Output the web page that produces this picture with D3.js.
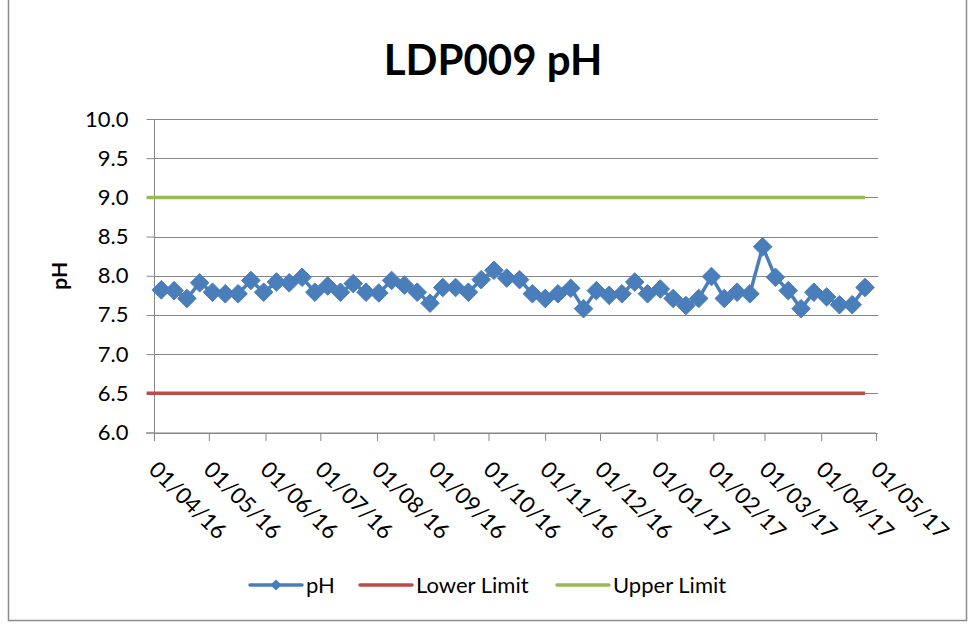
<!DOCTYPE html>
<html>
<head>
<meta charset="utf-8">
<script src="https://cdn.jsdelivr.net/npm/d3@7"></script>
<style>
  html, body { margin: 0; padding: 0; background: #fff; }
  svg { display: block; }
  text { font-family: Lato, "Open Sans", sans-serif; fill: #000; }
</style>
</head>
<body>
<svg id="chart" width="969" height="624"></svg>
<script>
// ---- Data ----
const title = "LDP009 pH";
const yAxisTitle = "pH";
const sampleDates = [
  "2016-04-05","2016-04-12","2016-04-19","2016-04-26","2016-05-03","2016-05-10","2016-05-17","2016-05-24",
  "2016-05-31","2016-06-07","2016-06-14","2016-06-21","2016-06-28","2016-07-05","2016-07-12","2016-07-19",
  "2016-07-26","2016-08-02","2016-08-09","2016-08-16","2016-08-23","2016-08-30","2016-09-06","2016-09-13",
  "2016-09-20","2016-09-27","2016-10-04","2016-10-11","2016-10-18","2016-10-25","2016-11-01","2016-11-08",
  "2016-11-15","2016-11-22","2016-11-29","2016-12-06","2016-12-13","2016-12-20","2016-12-27","2017-01-03",
  "2017-01-10","2017-01-17","2017-01-24","2017-01-31","2017-02-07","2017-02-14","2017-02-21","2017-02-28",
  "2017-03-07","2017-03-14","2017-03-21","2017-03-28","2017-04-04","2017-04-11","2017-04-18","2017-04-25"
];
const phValues = [
  7.82, 7.81, 7.71, 7.91, 7.79, 7.77, 7.77, 7.94,
  7.79, 7.92, 7.91, 7.98, 7.79, 7.87, 7.79, 7.90,
  7.79, 7.78, 7.94, 7.88, 7.79, 7.65, 7.85, 7.85,
  7.79, 7.95, 8.07, 7.97, 7.95, 7.77, 7.71, 7.77,
  7.84, 7.58, 7.81, 7.75, 7.77, 7.92, 7.77, 7.83,
  7.71, 7.62, 7.71, 7.99, 7.71, 7.79, 7.77, 8.37,
  7.98, 7.81, 7.58, 7.79, 7.73, 7.63, 7.63, 7.85
];
const limitDates = ["2016-03-28", "2017-04-25"];
const lowerLimit = [6.5, 6.5];
const upperLimit = [9.0, 9.0];
const yTicks = [6.0, 6.5, 7.0, 7.5, 8.0, 8.5, 9.0, 9.5, 10.0];
const xTickDates = [
  "2016-04-01","2016-05-01","2016-06-01","2016-07-01","2016-08-01","2016-09-01","2016-10-01",
  "2016-11-01","2016-12-01","2017-01-01","2017-02-01","2017-03-01","2017-04-01","2017-05-01"
];
const legendItems = [
  { name: "pH", color: "#4A7EBB", marker: true },
  { name: "Lower Limit", color: "#BE4B48", marker: false },
  { name: "Upper Limit", color: "#98B954", marker: false }
];

// ---- Setup ----
const parse = d3.utcParse("%Y-%m-%d");
const fmt = d3.utcFormat("%d/%m/%y");
const svg = d3.select("#chart");

const plot = { left: 154, right: 876, top: 119, bottom: 432.5 };

const x = d3.scaleUtc()
  .domain([parse(xTickDates[0]), parse(xTickDates[xTickDates.length - 1])])
  .range([plot.left, plot.right]);
const y = d3.scaleLinear().domain([6, 10]).range([plot.bottom, plot.top]);

// chart border
svg.append("path")
  .attr("d", "M8.5,-2 V620.5 H966.5 V-2")
  .attr("fill", "none").attr("stroke", "#8c8c8c").attr("stroke-width", 1.5);

// title
svg.append("text")
  .attr("x", 493).attr("y", 75)
  .attr("text-anchor", "middle")
  .style("font-size", "42px").style("font-weight", "bold")
  .text(title);

// gridlines
svg.append("g").selectAll("line")
  .data(yTicks)
  .join("line")
  .attr("x1", plot.left).attr("x2", plot.right + 2)
  .attr("y1", d => Math.round(y(d)) + 0.5).attr("y2", d => Math.round(y(d)) + 0.5)
  .attr("stroke", "#878787").attr("stroke-width", 1);

// y axis
const yAxis = d3.axisLeft(y).tickValues(yTicks).tickFormat(d3.format(".1f")).tickSize(8).tickPadding(18);
const gy = svg.append("g").attr("transform", `translate(${plot.left + 0.5},0)`).call(yAxis);
gy.select(".domain").attr("stroke", "#878787").attr("d", `M0,${plot.bottom + 8}V${plot.top}`);
gy.selectAll(".tick line").attr("stroke", "#878787");
gy.selectAll(".tick text").style("font-size", "22px").style("font-family", "Lato, sans-serif").attr("fill", "#000");

// y axis title
svg.append("text")
  .attr("transform", `translate(67,${(plot.top + plot.bottom) / 2}) rotate(-90)`)
  .attr("text-anchor", "middle")
  .style("font-size", "21px").style("font-weight", "bold")
  .text(yAxisTitle);

// x axis
const xAxis = d3.axisBottom(x).tickValues(xTickDates.map(parse)).tickFormat(fmt).tickSize(8).tickPadding(0);
const gx = svg.append("g").attr("transform", `translate(0,${plot.bottom + 0.5})`).call(xAxis);
gx.select(".domain").attr("stroke", "#878787").attr("d", `M${plot.left - 8},0H${plot.right}`);
gx.selectAll(".tick line").attr("stroke", "#878787");
gx.selectAll(".tick text")
  .style("font-size", "22.5px").style("font-family", "Lato, sans-serif").attr("fill", "#000")
  .attr("text-anchor", "start")
  .attr("y", 0).attr("dy", 0)
  .attr("transform", "translate(-7,38) rotate(45)");

// limit lines
const lineGen = d3.line().x(d => x(d[0])).y(d => y(d[1]));
svg.append("path")
  .datum(limitDates.map((d, i) => [parse(d), lowerLimit[i]]))
  .attr("d", lineGen).attr("fill", "none")
  .attr("stroke", legendItems[1].color).attr("stroke-width", 3.5);
svg.append("path")
  .datum(limitDates.map((d, i) => [parse(d), upperLimit[i]]))
  .attr("d", lineGen).attr("fill", "none")
  .attr("stroke", legendItems[2].color).attr("stroke-width", 3.5);

// pH series
const phData = sampleDates.map((d, i) => [parse(d), phValues[i]]);
svg.append("path")
  .datum(phData)
  .attr("d", lineGen).attr("fill", "none")
  .attr("stroke", legendItems[0].color).attr("stroke-width", 3.5).attr("stroke-linejoin", "round");

const diamond = d3.symbol().type(d3.symbolDiamond2).size(220);
svg.append("g").selectAll("path")
  .data(phData)
  .join("path")
  .attr("transform", d => `translate(${x(d[0])},${y(d[1])})`)
  .attr("d", diamond)
  .attr("fill", legendItems[0].color)
  .attr("stroke", legendItems[0].color).attr("stroke-width", 1);

// legend
const legendX = [250, 360, 557];
const lg = svg.append("g");
legendItems.forEach((item, i) => {
  const g = lg.append("g").attr("transform", `translate(${legendX[i]},585)`);
  g.append("line").attr("x1", 0).attr("x2", 52).attr("y1", 0).attr("y2", 0)
    .attr("stroke", item.color).attr("stroke-width", 3.5).attr("stroke-linecap", "round");
  if (item.marker) {
    g.append("path").attr("transform", "translate(26,0)").attr("d", d3.symbol().type(d3.symbolDiamond2).size(80))
      .attr("fill", item.color);
  }
  g.append("text").attr("x", 56).attr("y", 0).attr("dy", "0.35em")
    .style("font-size", "22px").text(item.name);
});
</script>
</body>
</html>
